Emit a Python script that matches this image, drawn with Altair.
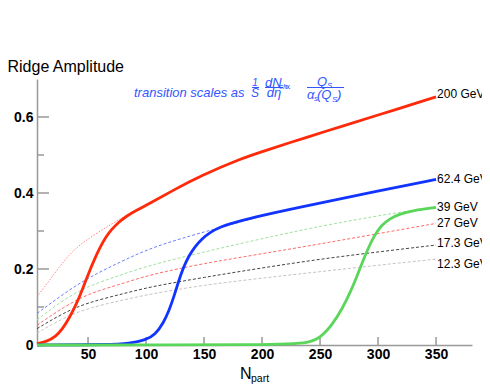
import altair as alt
import pandas as pd

# ---------------- data ----------------
# dashed "scaling" curves (light colours)
N_200d = [6, 17, 34, 50, 70, 85, 103, 147, 181, 204, 267, 350]
V_200d = [0.127, 0.171, 0.242, 0.28, 0.318, 0.345, 0.372, 0.445, 0.49, 0.513, 0.574, 0.653]

N_62d = [6, 29, 50, 78, 103, 130, 161, 200, 241, 300, 350]
V_62d = [0.083, 0.135, 0.177, 0.219, 0.254, 0.28, 0.307, 0.34, 0.368, 0.405, 0.436]

N_39d = [6, 29, 50, 78, 103, 150, 200, 250, 300, 322, 350]
V_39d = [0.066, 0.12, 0.155, 0.184, 0.21, 0.245, 0.28, 0.313, 0.34, 0.351, 0.362]

N_27d = [6, 29, 50, 78, 103, 150, 200, 250, 300, 350]
V_27d = [0.052, 0.1, 0.135, 0.16, 0.185, 0.215, 0.24, 0.266, 0.293, 0.32]

N_17d = [6, 29, 50, 78, 103, 150, 200, 250, 300, 350]
V_17d = [0.043, 0.085, 0.112, 0.133, 0.153, 0.178, 0.203, 0.226, 0.245, 0.263]

N_12d = [6, 29, 50, 78, 103, 150, 200, 250, 300, 350]
V_12d = [0.031, 0.072, 0.097, 0.117, 0.134, 0.158, 0.176, 0.193, 0.21, 0.226]

# solid "ridge" curves
N_200 = [6, 15, 22, 28, 34, 40, 45, 50, 55, 60, 65, 70, 76, 83, 92, 103, 125, 147, 181, 204, 240, 267, 300, 350]
V_200 = [0.003, 0.01, 0.022, 0.042, 0.072, 0.108, 0.145, 0.185, 0.222, 0.255, 0.283, 0.303, 0.322, 0.339,
         0.355, 0.372, 0.41, 0.445, 0.49, 0.513, 0.548, 0.574, 0.605, 0.653]

N_62 = [6, 70, 85, 100, 108, 115, 120, 124, 128, 132, 137, 142, 148, 155, 164, 180, 210, 241, 300, 350]
V_62 = [0.0, 0.001, 0.004, 0.013, 0.028, 0.058, 0.092, 0.127, 0.167, 0.203, 0.235, 0.258, 0.279, 0.296,
        0.311, 0.326, 0.348, 0.368, 0.405, 0.436]

N_39 = [6, 220, 240, 250, 261, 270, 277, 283, 290, 297, 303, 310, 318, 330, 350]
V_39 = [0.0, 0.0, 0.006, 0.018, 0.055, 0.1, 0.145, 0.19, 0.245, 0.29, 0.315, 0.332, 0.344, 0.354, 0.362]

# energy labels at the right end
label_text = ["200 GeV", "62.4 GeV", "39 GeV", "27 GeV", "17.3 GeV", "12.3 GeV"]
label_N = [350, 350, 350, 350, 350, 350]
label_V = [0.66, 0.436, 0.362, 0.321, 0.268, 0.213]

x_ticks = [50, 100, 150, 200, 250, 300, 350]
y_major = [0.2, 0.4, 0.6]
y_minor = [0.1, 0.3, 0.5]
y_labels = [0, 0.2, 0.4, 0.6]

# ---------------- styling ----------------
FONT = "Liberation Sans"
W, H = 435, 266
BLUE_TXT = "#3355ff"
INTERP = "basis"

xscale = alt.Scale(domain=[6, 381], nice=False, zero=False)
yscale = alt.Scale(domain=[0, 0.7], nice=False)

xaxis = alt.Axis(values=x_ticks, title=None, grid=False, ticks=False, tickSize=0,
                 domainColor="#999999", domainWidth=1.5, labelFont=FONT,
                 labelFontWeight="bold", labelFontSize=14, labelColor="black",
                 labelPadding=2)
yaxis = alt.Axis(values=y_labels, grid=False, ticks=False, tickSize=0,
                 domainColor="#999999", domainWidth=1.5, labelFont=FONT,
                 labelFontWeight="bold", labelFontSize=14, labelColor="black",
                 labelPadding=4,
                 labelExpr="datum.value == 0 ? '0' : format(datum.value, '.1f')",
                 title="Ridge Amplitude", titleAngle=0, titleAlign="left",
                 titleBaseline="alphabetic", titleX=-30, titleY=-8,
                 titleFont=FONT, titleFontSize=16, titleFontWeight="normal",
                 titleColor="black")


def curve(ns, vs, color, width, dash=None):
    df = pd.DataFrame({"N": ns, "v": vs})
    kw = dict(color=color, strokeWidth=width, interpolate=INTERP)
    if dash:
        kw["strokeDash"] = dash
    return alt.Chart(df).mark_line(**kw).encode(
        x=alt.X("N:Q", scale=xscale, axis=xaxis),
        y=alt.Y("v:Q", scale=yscale, axis=yaxis),
    )


layers = []

# inward tick marks
layers.append(alt.Chart(pd.DataFrame({"v": y_major})).mark_rule(color="#999999", strokeWidth=1.5).encode(
    y=alt.Y("v:Q", scale=yscale, axis=yaxis), x=alt.value(0), x2=alt.value(12)))
layers.append(alt.Chart(pd.DataFrame({"v": y_minor})).mark_rule(color="#999999", strokeWidth=1.5).encode(
    y=alt.Y("v:Q", scale=yscale, axis=yaxis), x=alt.value(0), x2=alt.value(7)))
layers.append(alt.Chart(pd.DataFrame({"N": x_ticks})).mark_rule(color="#999999", strokeWidth=1.5).encode(
    x=alt.X("N:Q", scale=xscale, axis=xaxis), y=alt.value(H), y2=alt.value(H - 8)))

# dashed curves
layers.append(curve(N_12d, V_12d, "#c4c4c4", 1, [3, 2]))
layers.append(curve(N_17d, V_17d, "#444444", 1, [3, 2]))
layers.append(curve(N_27d, V_27d, "#ff6a6a", 1, [3, 2]))
layers.append(curve(N_39d, V_39d, "#9fe09f", 1, [3, 2]))
layers.append(curve(N_62d, V_62d, "#6c7fff", 1, [3, 2]))
layers.append(curve(N_200d, V_200d, "#ff8a8a", 1, [1.5, 1.5]))

# solid curves
layers.append(curve(N_200, V_200, "#ff2a0a", 2.8))
layers.append(curve(N_62, V_62, "#1234ff", 2.8))
layers.append(curve(N_39, V_39, "#5ad65a", 2.8))

# right-hand labels
lab_df = pd.DataFrame({"t": label_text, "N": label_N, "v": label_V})
layers.append(alt.Chart(lab_df).mark_text(align="left", baseline="middle", dx=1, font=FONT,
                                          fontSize=12, color="black").encode(
    x=alt.X("N:Q", scale=xscale, axis=xaxis), y=alt.Y("v:Q", scale=yscale, axis=yaxis), text="t"))


def txt(s, x, y, size, color="black", style="normal", align="left"):
    return alt.Chart(pd.DataFrame({"t": [s]})).mark_text(
        align=align, baseline="alphabetic", font=FONT, fontSize=size, color=color,
        fontStyle=style).encode(text="t", x=alt.value(x), y=alt.value(y))


def bar(x1, x2, y):
    return alt.Chart(pd.DataFrame({"t": [0]})).mark_rule(color=BLUE_TXT, strokeWidth=1).encode(
        x=alt.value(x1), x2=alt.value(x2), y=alt.value(y))


# x-axis title N_part
layers.append(txt("N", 203, 300, 16))
layers.append(txt("part", 214, 302.5, 10.5))

# annotation formula (plot-relative pixel positions)
layers.append(txt("transition scales as", 97, 18, 13, BLUE_TXT, "italic"))
layers.append(txt("1", 218, 7, 10, BLUE_TXT, "italic", "center"))
layers.append(bar(215, 222, 8.5))
layers.append(txt("S", 218, 18, 12, BLUE_TXT, "italic", "center"))
layers.append(txt("dN", 228, 8, 13, BLUE_TXT, "italic"))
layers.append(txt("ch", 242, 10, 8, BLUE_TXT, "italic"))
layers.append(bar(228, 246, 8.5))
layers.append(txt("dη", 237, 18, 13, BLUE_TXT, "italic", "center"))
layers.append(txt("∝", 250, 11, 10, BLUE_TXT, "normal", "center"))
layers.append(txt("Q", 280, 7, 13, BLUE_TXT, "italic"))
layers.append(txt("S", 290, 9, 8, BLUE_TXT, "italic"))
layers.append(bar(270, 307, 8.5))
layers.append(txt("α", 270, 20, 13, BLUE_TXT, "italic"))
layers.append(txt("s", 277, 22, 8, BLUE_TXT, "italic"))
layers.append(txt("(Q", 280, 20, 13, BLUE_TXT, "italic"))
layers.append(txt("S", 295, 23, 8, BLUE_TXT, "italic"))
layers.append(txt(")", 300, 20, 13, BLUE_TXT, "italic"))

chart = alt.layer(*layers).properties(
    width=W, height=H,
    autosize=alt.AutoSizeParams(type="none"),
    padding={"left": 29, "top": 71, "right": 10, "bottom": 39},
).configure_view(stroke=None)

chart.save("out.html", embed_options={"renderer": "svg", "actions": False})
